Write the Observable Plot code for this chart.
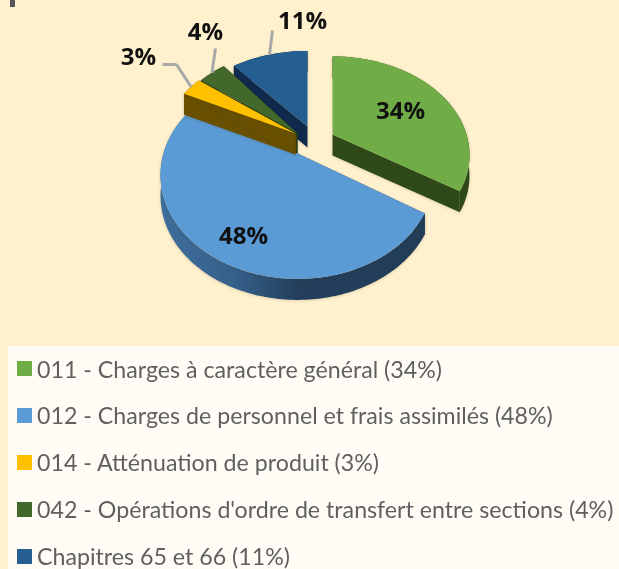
<!DOCTYPE html>
<html lang="fr">
<head>
<meta charset="utf-8">
<script src="https://cdn.jsdelivr.net/npm/d3@7"></script>
<script src="https://cdn.jsdelivr.net/npm/@observablehq/plot@0.6"></script>
<style>
  html, body { margin: 0; padding: 0; background: #FFF1CE; width: 619px; height: 569px; overflow: hidden; }
  #page { position: relative; width: 619px; height: 569px; filter: blur(0.35px); }
  #page svg { display: block; background: transparent; }
  #page svg g[aria-label="line"] { filter: drop-shadow(0 1px 1.5px rgba(70,50,10,.16)); }
  #cut { position: absolute; left: 10px; top: 0; width: 5px; height: 7px; background: #55555f; }
  #legend { position: absolute; left: 8px; top: 346px; right: 0; bottom: 0; background: #FFFCF5; overflow: hidden; }
  .row { position: absolute; left: 9px; height: 22px; display: flex; align-items: center; white-space: nowrap;
         font: 23.2px/22px Lato, "Open Sans", sans-serif; color: #5f5f5f; }
  .sw { width: 15px; height: 15px; margin-right: 5px; flex: none; }
</style>
</head>
<body>
<div id="page">
  <div id="chart"></div>
  <div id="cut"></div>
  <div id="legend"></div>
</div>
<script>
// ---- data ----
const categories = [
  "011 - Charges à caractère général (34%)",
  "012 - Charges de personnel et frais assimilés (48%)",
  "014 - Atténuation de produit (3%)",
  "042 - Opérations d'ordre de transfert entre sections (4%)",
  "Chapitres 65 et 66 (11%)"
];
const shares = [34, 48, 3, 4, 11];
const colors = ["#70AD47", "#5B9BD5", "#FFC000", "#43682B", "#255E91"];
const sideColors = ["#2E4A1B", "url(#blueWall)", "#685000", "#2A4118", "#0F2A4C"];

// ---- 3D pie view (perspective of a tilted disc, in pixel-like scale units) ----
const W = 619, H = 346;
const view = {rx: 134, ry: 101.4, k: 0.2076, depth: 21};
const apexes = [[332, 134], [297, 153], [295, 133], [297, 133], [307, 126]];
const squash = [0.93, 0.98, 1, 1, 0.9];
const drawOrder = [0, 4, 3, 1, 2];
const labelAt = [[400, 111], [243, 236], [138, 57], [205, 32], [302, 21]];
const leaderFrom = [null, null, [[162, 64], [176, 64]], [[215, 48]], [[272, 30]]];

let run = 0;
const slices = shares.map((s, i) => {
  const a0 = run / 100 * 2 * Math.PI;
  run += s;
  return {i, a0, a1: run / 100 * 2 * Math.PI};
});

function project(i, a) {
  const u = Math.sin(a), v = -Math.cos(a), den = 1 - view.k * v;
  return {
    x: apexes[i][0] + view.rx * u / den,
    y: apexes[i][1] + squash[i] * view.ry * v / den
  };
}
const apex = i => ({x: apexes[i][0], y: apexes[i][1]});
const drop = p => ({x: p.x, y: p.y + view.depth});
function arc(s) {
  const n = Math.max(8, Math.ceil((s.a1 - s.a0) / 0.02));
  return d3.range(n + 1).map(j => project(s.i, s.a0 + (s.a1 - s.a0) * j / n));
}

const poly = (pts, fill) => Plot.line(pts, {x: "x", y: "y", fill, stroke: "none", curve: "linear"});

const pieMarks = drawOrder.flatMap(i => {
  const s = slices[i], top = arc(s), o = apex(i), first = top[0], last = top[top.length - 1];
  const side = sideColors[i];
  return [
    poly([...top, ...top.map(drop).reverse()], side),
    poly([o, first, drop(first), drop(o)], side === sideColors[1] ? "#223D58" : side),
    poly([o, last, drop(last), drop(o)], side === sideColors[1] ? "#223D58" : side),
    poly([o, ...top], colors[i])
  ];
});

const labels = shares.map((s, i) => ({text: s + "%", x: labelAt[i][0], y: labelAt[i][1]}));

const leaderSegments = leaderFrom.flatMap((from, i) => {
  if (!from) return [];
  const s = slices[i], end = project(i, (s.a0 + s.a1) / 2);
  const path = [...from.map(([x, y]) => ({x, y})), end];
  return path.slice(1).map((p, j) => ({x1: path[j].x, y1: path[j].y, x2: p.x, y2: p.y}));
});

const gradient = () => {
  const g = d3.create("svg:defs");
  const lg = g.append("linearGradient").attr("id", "blueWall");
  [[0, "#3F6E9C"], [0.28, "#35608A"], [0.52, "#233F5C"], [1, "#223D58"]].forEach(([o, c]) =>
    lg.append("stop").attr("offset", o).attr("stop-color", c));
  return g.node();
};

const chart = Plot.plot({
  width: W,
  height: H,
  margin: 0,
  x: {domain: [0, W], range: [0, W], axis: null},
  y: {domain: [0, H], range: [0, H], axis: null},
  style: {background: "transparent"},
  marks: [
    gradient,
    ...pieMarks,
    Plot.link(leaderSegments, {x1: "x1", y1: "y1", x2: "x2", y2: "y2", stroke: "#A9A9A9", strokeWidth: 3, strokeLinecap: "butt", strokeLinejoin: "round"}),
    Plot.text(labels, {x: "x", y: "y", text: "text", fontSize: 24, fontWeight: 700, fontFamily: "'Open Sans', sans-serif", fill: "#111", textAnchor: "middle"})
  ]
});
document.getElementById("chart").append(chart);

// ---- legend below the svg ----
const legend = document.getElementById("legend");
categories.forEach((c, i) => {
  const row = document.createElement("div");
  row.className = "row";
  row.style.top = (11.5 + i * 46.9) + "px";
  const sw = document.createElement("span");
  sw.className = "sw";
  sw.style.background = colors[i];
  const t = document.createElement("span");
  t.textContent = c;
  row.append(sw, t);
  legend.append(row);
});
</script>
</body>
</html>
